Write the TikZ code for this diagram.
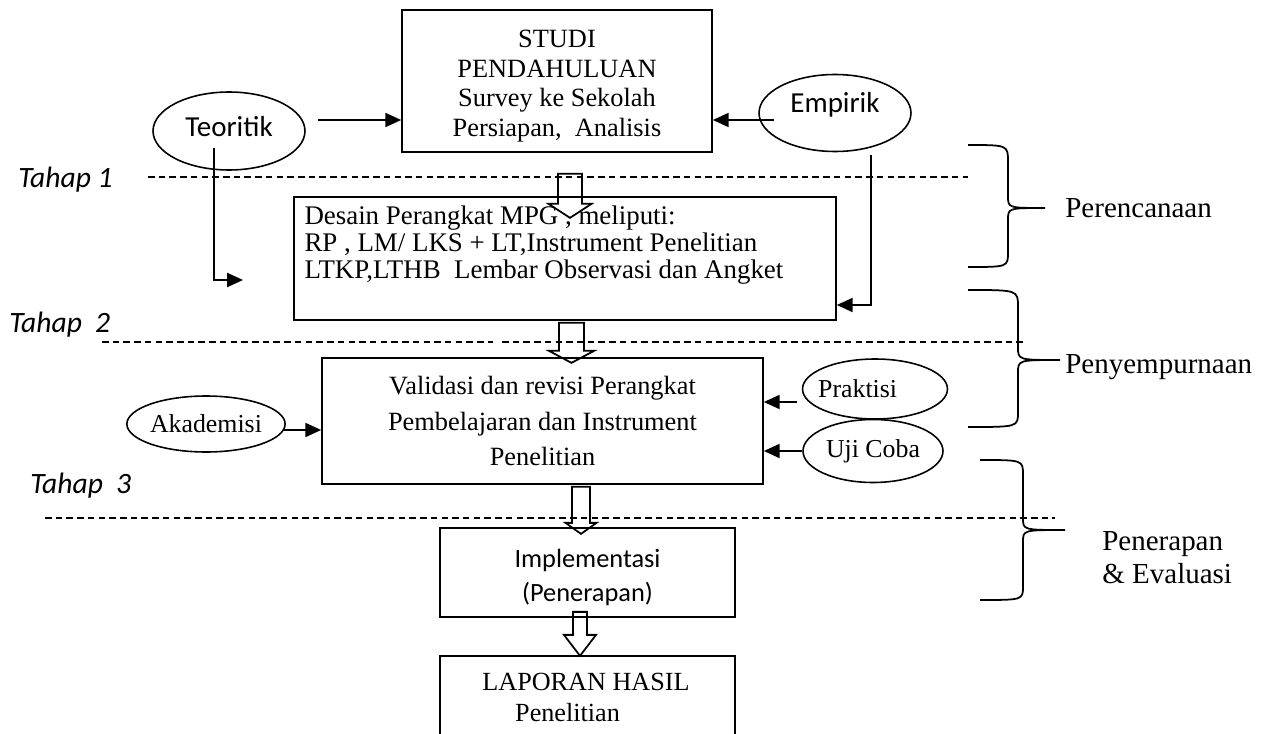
\documentclass[tikz,border=0pt]{standalone}
\usepackage{fontspec}
\setmainfont{Liberation Serif}
\newfontfamily\calibri{Carlito}
\usetikzlibrary{shapes.geometric,arrows.meta}

\tikzset{
  box/.style={draw, line width=1pt, inner sep=0pt, align=center},
  boxtext/.style={inner sep=0pt, align=center},
  bubble/.style={draw, ellipse, line width=0.9pt, inner sep=0pt},
  arr/.style={line width=1pt, -{Triangle[length=9pt,width=8pt]}},
  hollow/.style={line width=1pt, line join=miter},
  phase/.style={line width=1.1pt, dash pattern=on 3.7pt off 2.4pt},
  brace/.style={line width=1pt},
  tahap/.style={anchor=base west, inner sep=0pt, font=\calibri\itshape\fontsize{16.8pt}{19pt}\selectfont},
  stage/.style={inner sep=0pt, font=\fontsize{16.5pt}{18.7pt}\selectfont}
}

\begin{document}
\begin{tikzpicture}[x=0.02cm,y=-0.02cm]
  \useasboundingbox (0,0) rectangle (1263,733);

  % garis tahap
  \draw[phase] (148,177) -- (968,177);
  \draw[phase] (102,342) -- (493,342);
  \draw[phase] (502,342) -- (1023,342);
  \draw[phase] (45,518) -- (1055,518);

  \node[tahap] (tahap1) at (18,188) {Tahap 1};
  \node[tahap] (tahap2) at (9,332) {Tahap\ \ 2};
  \node[tahap] (tahap3) at (30,493) {Tahap\ \ 3};

  % studi pendahuluan
  \node[box, minimum width=6.2cm, minimum height=2.84cm] (studi) at (557,81) {};
  \node[boxtext, font=\fontsize{15pt}{16.9pt}\selectfont] (studitext) at ([shift={(0,5)}]studi.center)
    {STUDI\\PENDAHULUAN\\Survey ke Sekolah\\Persiapan,\ \ Analisis};
  \node[bubble, minimum width=3.04cm, minimum height=1.56cm, text height=0pt, text depth=0pt,
    font=\calibri\fontsize{16.5pt}{18pt}\selectfont] (teoritik) at (229,131) {\raisebox{-3pt}{Teoritik}};
  \node[bubble, minimum width=3.04cm, minimum height=1.54cm, text height=0pt, text depth=0pt,
    font=\calibri\fontsize{16.5pt}{18pt}\selectfont] (empirik) at (835,113) {Empirik};

  \coordinate (t1) at (318,120);
  \draw[arr] (t1) -- (t1 -| studi.west);
  \coordinate (e1) at (774,120);
  \draw[arr] (e1) -- (e1 -| studi.east);

  % desain
  \node[box, minimum width=10.84cm, minimum height=2.46cm] (desain) at (565,258.5) {};
  \node[anchor=north west, inner sep=0pt, align=left, font=\fontsize{15.3pt}{15.3pt}\selectfont] (desaintext)
    at ([shift={(11,9.5)}]desain.north west)
    {Desain Perangkat MPG , meliputi:\\RP , LM/ LKS + LT,Instrument Penelitian\\LTKP,LTHB\ \ Lembar Observasi dan Angket};

  \coordinate (t2) at (214,148);
  \coordinate (t3) at (243,280);
  \draw[arr] (t2) |- (t3);
  \coordinate (e2) at (871,155);
  \coordinate (e3) at (871,305);
  \draw[arr] (e2) -- (e3) -- (e3 -| desain.east);

  \draw[hollow] ([shift={(1,21)}]studi.south) -- ++(0,30) -- ++(-9.5,0) -- ++(21.5,14)
    -- ++(21.5,-14) -- ++(-9.5,0) -- ++(0,-30) -- cycle;
  \draw[hollow] ([shift={(-6,2)}]desain.south) -- ++(0,28) -- ++(-10,0) -- ++(22.5,12)
    -- ++(22.5,-12) -- ++(-10,0) -- ++(0,-28) -- cycle;

  % validasi
  \node[box, minimum width=8.82cm, minimum height=2.52cm, font=\fontsize{15pt}{20.4pt}\selectfont] (validasi) at (542.5,421)
    {Validasi dan revisi Perangkat\\Pembelajaran dan Instrument\\Penelitian};
  \node[bubble, minimum width=3.14cm, minimum height=1.12cm, font=\fontsize{14.7pt}{16pt}\selectfont] (akademisi) at (206,424) {Akademisi};
  \node[bubble, minimum width=2.9cm, minimum height=1.2cm, font=\fontsize{14.7pt}{16pt}\selectfont] (praktisi) at (875,389) {\kern-19.8pt Praktisi};
  \node[bubble, minimum width=2.8cm, minimum height=1.26cm, font=\fontsize{14.7pt}{16pt}\selectfont] (ujicoba) at (873,451) {Uji Coba};

  \coordinate (a1) at (284,430);
  \draw[arr] (a1) -- (a1 -| validasi.west);
  \coordinate (p1) at (797,402);
  \draw[arr] (p1) -- (p1 -| validasi.east);
  \draw[arr] (ujicoba.west) -- (ujicoba.west -| validasi.east);

  % implementasi dan laporan
  \node[box, minimum width=5.9cm, minimum height=1.78cm] (impl) at (587.5,572.5) {};
  \node[boxtext, font=\calibri\fontsize{15pt}{19.8pt}\selectfont] (impltext) at ([shift={(0,5)}]impl.center)
    {Implementasi\\(Penerapan)};
  \node[box, minimum width=5.9cm, minimum height=2.2cm] (laporan) at (587.5,711) {};
  \node[boxtext, anchor=north, font=\fontsize{14.9pt}{17.6pt}\selectfont] (laporantext)
    at (586,672.5) {LAPORAN HASIL\\Penelitian\hspace{21pt}\mbox{}};

  \draw[hollow] ([shift={(29.5,2)}]validasi.south) -- ++(0,36) -- ++(-6.5,0) -- ++(15.5,11)
    -- ++(15.5,-11) -- ++(-6.5,0) -- ++(0,-36) -- cycle;
  \draw[hollow] ([shift={(-14.5,-6)}]impl.south) -- ++(0,23) -- ++(-9,0) -- ++(16,21)
    -- ++(16,-21) -- ++(-9,0) -- ++(0,-23) -- cycle;

  % kurung kurawal
  \draw[brace] (968,145) .. controls (1008,145) .. (1008,162) -- (1008,196)
    .. controls (1008,208) .. (1045,208) .. controls (1008,208) .. (1008,220)
    -- (1008,252) .. controls (1008,267) .. (968,267);
  \draw[brace] (968,290) .. controls (1018,290) .. (1018,307) -- (1018,347)
    .. controls (1018,360) .. (1060,360) .. controls (1018,360) .. (1018,373)
    -- (1018,412) .. controls (1018,427) .. (968,427);
  \draw[brace] (980,460) .. controls (1023,460) .. (1023,475) -- (1023,518)
    .. controls (1023,530) .. (1065,530) .. controls (1023,530) .. (1023,542)
    -- (1023,586) .. controls (1023,600) .. (980,600);

  \node[stage, anchor=base west] (perencanaan) at (1065,217) {Perencanaan};
  \node[stage, anchor=base west] (penyempurnaan) at (1065,373) {Penyempurnaan};
  \node[stage, anchor=north west, align=left] (penerapan) at (1102,531) {Penerapan\\\& Evaluasi};
\end{tikzpicture}
\end{document}
